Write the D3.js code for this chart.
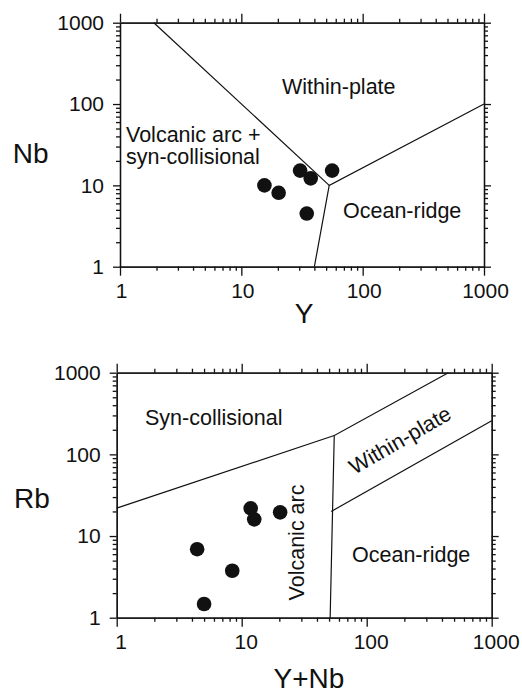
<!DOCTYPE html>
<html>
<head>
    <meta charset="utf-8" />
    <script src="https://cdn.jsdelivr.net/npm/d3@7"></script>
    <style>
        body { margin: 0; background: #fff; }
        text { font-family: "Liberation Sans", Arial, sans-serif; fill: #111; }
        .domain, .tick line { stroke: #111; stroke-width: 1.3; }
        .bound { fill: none; stroke: #111; stroke-width: 1.2; }
    </style>
</head>
<body>
<script>
    // Nb vs Y
    var sampleY = [15.5, 20.3, 30.5, 37.3, 34.6, 56];
    var sampleNb = [10, 8.1, 15.2, 12.2, 4.5, 15.2];
    // Rb vs Y+Nb
    var sampleYNb = [4.4, 5.0, 8.4, 11.8, 12.6, 20.3];
    var sampleRb = [6.9, 1.47, 3.76, 21.8, 16.0, 19.5];

    var majorTicks = [1, 10, 100, 1000];
    var minorTicks = [];
    [1, 10, 100].forEach(function (p) {
        for (var k = 2; k <= 9; k++) minorTicks.push(k * p);
    });

    // field boundaries, data units [x, y]
    var nbBounds = [
        [[1.9, 1000], [53, 10]],
        [[40, 1], [53, 10], [1000, 100]]
    ];
    var rbBounds = [
        [[1, 22], [55, 170]],
        [[51, 1], [55, 170], [450, 1000]],
        [[52, 20], [1000, 258]]
    ];

    var nbLabels = [
        { t: ["Within-plate"], x: 282, y: 94 },
        { t: ["Volcanic arc +", "syn-collisional"], x: 126, y: 142 },
        { t: ["Ocean-ridge"], x: 343, y: 218 }
    ];
    var rbLabels = [
        { t: ["Syn-collisional"], x: 145, y: 425 },
        { t: ["Ocean-ridge"], x: 352, y: 562 }
    ];

    var svg = d3.select("body").append("svg")
        .attr("width", 522)
        .attr("height", 695);

    function drawChart(box, xs, ys, bounds, labels) {
        var x = d3.scaleLog().domain([1, 1000]).range([box.left, box.right]);
        var y = d3.scaleLog().domain([1, 1000]).range([box.bottom, box.top]);
        var g = svg.append("g");

        // minor ticks
        g.append("g").attr("transform", "translate(0," + box.bottom + ")")
            .call(d3.axisBottom(x).tickValues(minorTicks).tickSize(4).tickSizeOuter(0).tickFormat(""));
        g.append("g").attr("transform", "translate(0," + box.top + ")")
            .call(d3.axisTop(x).tickValues(minorTicks).tickSize(4).tickSizeOuter(0).tickFormat(""));
        g.append("g").attr("transform", "translate(" + box.left + ",0)")
            .call(d3.axisLeft(y).tickValues(minorTicks).tickSize(4).tickSizeOuter(0).tickFormat(""));
        g.append("g").attr("transform", "translate(" + box.right + ",0)")
            .call(d3.axisRight(y).tickValues(minorTicks).tickSize(4).tickSizeOuter(0).tickFormat(""));

        // major ticks
        var bx = g.append("g").attr("transform", "translate(0," + box.bottom + ")")
            .call(d3.axisBottom(x).tickValues(majorTicks).tickSize(9).tickSizeOuter(0).tickPadding(7).tickFormat(d3.format("d")));
        g.append("g").attr("transform", "translate(0," + box.top + ")")
            .call(d3.axisTop(x).tickValues(majorTicks).tickSize(9).tickSizeOuter(0).tickFormat(""));
        g.append("g").attr("transform", "translate(" + box.left + ",0)")
            .call(d3.axisLeft(y).tickValues(majorTicks).tickSize(7).tickSizeOuter(0).tickPadding(9).tickFormat(d3.format("d")));
        g.append("g").attr("transform", "translate(" + box.right + ",0)")
            .call(d3.axisRight(y).tickValues(majorTicks).tickSize(7).tickSizeOuter(0).tickFormat(""));

        g.selectAll(".tick text").attr("font-size", 21).attr("font-family", null);
        bx.selectAll(".tick text").attr("dx", box.dx);

        var line = d3.line()
            .x(function (d) { return x(d[0]); })
            .y(function (d) { return y(d[1]); });
        g.selectAll("path.bound")
            .data(bounds)
            .enter().append("path")
            .attr("class", "bound")
            .attr("d", line);

        g.selectAll("circle")
            .data(xs)
            .enter().append("circle")
            .attr("cx", function (d) { return x(d); })
            .attr("cy", function (d, i) { return y(ys[i]); })
            .attr("r", 7.3)
            .attr("fill", "#111");

        var lab = g.selectAll("text.field")
            .data(labels)
            .enter().append("text")
            .attr("class", "field")
            .attr("font-size", 21.5);
        lab.selectAll("tspan")
            .data(function (d) {
                return d.t.map(function (s, i) { return { s: s, x: d.x, y: d.y + i * 21.5 }; });
            })
            .enter().append("tspan")
            .attr("x", function (d) { return d.x; })
            .attr("y", function (d) { return d.y; })
            .text(function (d) { return d.s; });
        return g;
    }

    drawChart({ left: 120, right: 484, top: 22.7, bottom: 266.7, dx: 1 },
        sampleY, sampleNb, nbBounds, nbLabels);
    var g2 = drawChart({ left: 116.7, right: 491.7, top: 372.7, bottom: 617.7, dx: 4 },
        sampleYNb, sampleRb, rbBounds, rbLabels);

    g2.append("text")
        .attr("transform", "translate(400,440) rotate(-30)")
        .attr("text-anchor", "middle")
        .attr("dy", "0.35em")
        .attr("font-size", 21.5)
        .text("Within-plate");
    g2.append("text")
        .attr("transform", "translate(304,542.5) rotate(-90)")
        .attr("text-anchor", "middle")
        .attr("font-size", 21.5)
        .text("Volcanic arc");

    // axis titles
    svg.append("text").attr("x", 12.7).attr("y", 163).attr("font-size", 28).text("Nb");
    svg.append("text").attr("x", 304).attr("y", 323).attr("text-anchor", "middle").attr("font-size", 28).text("Y");
    svg.append("text").attr("x", 14).attr("y", 508).attr("font-size", 28).text("Rb");
    svg.append("text").attr("x", 309).attr("y", 688).attr("text-anchor", "middle").attr("font-size", 28).text("Y+Nb");
</script>
</body>
</html>
